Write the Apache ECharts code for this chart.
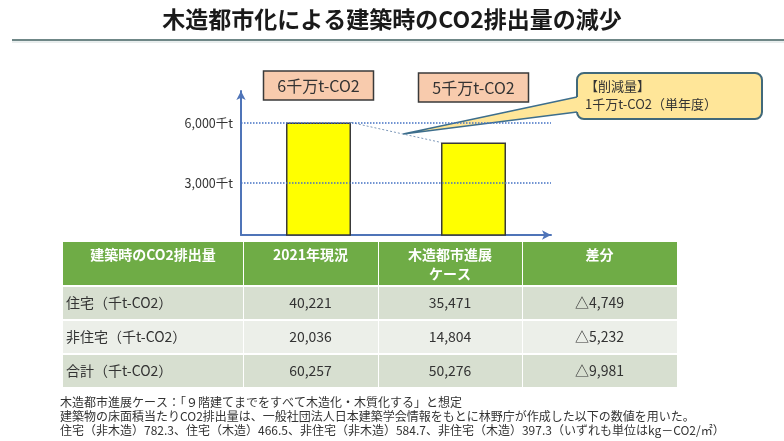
<!DOCTYPE html>
<html>
<head>
<meta charset="utf-8">
<style>
  html, body { margin: 0; padding: 0; background: #fff; }
  #chart { width: 784px; height: 441px; }
</style>
<script src="https://cdn.jsdelivr.net/npm/echarts@6/dist/echarts.min.js"></script>
</head>
<body>
<div id="chart"></div>
<script>
// data
const titleText = "木造都市化による建築時のCO2排出量の減少";
const categories = ["2021年現況", "木造都市進展ケース"];
const barValues = [6026, 5028];
const barLabels = ["6千万t-CO2", "5千万t-CO2"];
const refLines = [3000, 6000];
const refLabels = ["3,000千t", "6,000千t"];
const calloutLines = ["【削減量】", "1千万t-CO2（単年度）"];
const tableHeader = ["建築時のCO2排出量", "2021年現況", "木造都市進展\nケース", "差分"];
const rowNames = ["住宅（千t-CO2）", "非住宅（千t-CO2）", "合計（千t-CO2）"];
const current2021 = ["40,221", "20,036", "60,257"];
const woodCase = ["35,471", "14,804", "50,276"];
const diffs = ["△4,749", "△5,232", "△9,981"];
const notes = [
  "木造都市進展ケース：「９階建てまでをすべて木造化・木質化する」と想定",
  "建築物の床面積当たりCO2排出量は、一般社団法人日本建築学会情報をもとに林野庁が作成した以下の数値を用いた。",
  "住宅（非木造）782.3、住宅（木造）466.5、非住宅（非木造）584.7、非住宅（木造）397.3（いずれも単位はkg－CO2/㎡）"
];

const FONT = "'Noto Sans CJK JP', 'Noto Sans', sans-serif";
const axisBlue = "#4F74B8";

const myChart = echarts.init(document.getElementById("chart"));

const option = {
  animation: false,
  textStyle: { fontFamily: FONT },
  grid: { left: 241, top: 91, width: 310, height: 144 },
  xAxis: {
    type: "category",
    data: categories,
    axisLine: {
      symbol: ["none", "arrow"],
      symbolSize: [7, 9],
      lineStyle: { color: axisBlue, width: 2 },
    },
    axisTick: { show: false },
    axisLabel: { show: false },
  },
  yAxis: {
    type: "value",
    min: 400,
    max: 7600,
    axisLine: {
      show: true,
      symbol: ["none", "arrow"],
      symbolSize: [7, 9],
      lineStyle: { color: axisBlue, width: 2 },
    },
    axisTick: { show: false },
    axisLabel: { show: false },
    splitLine: { show: false },
  },
  series: [
    {
      type: "bar",
      data: barValues,
      barWidth: 65,
      itemStyle: { color: "#FFFF00", borderColor: "#3A3A3A", borderWidth: 1.5 },
      markLine: {
        silent: true,
        symbol: "none",
        lineStyle: { type: "dotted", color: "#4472C4", width: 1.5 },
        label: {
          position: "start",
          distance: 8,
          color: "#333",
          fontSize: 12.5,
          fontFamily: FONT,
          formatter: (p) => refLabels[refLines.indexOf(p.value)],
        },
        data: refLines.map((v) => ({ yAxis: v })),
      },
    },
  ],
};

myChart.setOption(option);

// positions of the bars, for the boxes and the dotted connector
const half = 65 / 2;
const cx = categories.map((c) => myChart.convertToPixel({ xAxisIndex: 0 }, c));
const topY = barValues.map((v) => myChart.convertToPixel({ yAxisIndex: 0 }, v));
const p1 = [cx[0] + half, topY[0]];
const p2 = [cx[1] - half, topY[1]];
const tip = [p1[0] + (p2[0] - p1[0]) * 0.58, p1[1] + (p2[1] - p1[1]) * 0.58];

const graphic = [];

// title + rule
graphic.push({
  type: "text", left: "center", top: 8,
  style: { text: titleText, font: "bold 23px " + FONT, fill: "#1a1a1a" },
});
graphic.push({ type: "line", shape: { x1: 12, y1: 40, x2: 784, y2: 40 }, style: { stroke: "#6F8787", lineWidth: 2 } });
graphic.push({ type: "line", shape: { x1: 12, y1: 42, x2: 784, y2: 42 }, style: { stroke: "#D3DCDC", lineWidth: 1 } });

// bar top boxes
const boxY = [71, 73];
barLabels.forEach((t, i) => {
  graphic.push({
    type: "rect",
    shape: { x: cx[i] - 55, y: boxY[i], width: 110, height: 29 },
    style: { fill: "#F8CBAD", stroke: "#3A3A3A", lineWidth: 1.5 },
  });
  graphic.push({
    type: "text", x: cx[i], y: boxY[i] + 15,
    style: { text: t, font: "16px " + FONT, fill: "#333", align: "center", verticalAlign: "middle" },
  });
});

// dotted connector between bar tops
graphic.push({
  type: "line",
  shape: { x1: p1[0], y1: p1[1], x2: p2[0], y2: p2[1] },
  style: { stroke: "#7C97B8", lineWidth: 1, lineDash: [2, 2] },
});

// callout bubble
const bx = 577, by = 73, bw = 185, bh = 46;
graphic.push({
  type: "rect",
  shape: { x: bx, y: by, width: bw, height: bh, r: 7 },
  style: { fill: "#FFE699", stroke: "#41697A", lineWidth: 2 },
});
graphic.push({
  type: "polygon",
  shape: { points: [tip, [bx, 97], [bx + 4, 97], [bx + 4, 112], [bx, 112]] },
  style: { fill: "#FFE699" },
});
graphic.push({ type: "polyline", shape: { points: [[bx, 97], tip, [bx, 112]] }, style: { stroke: "#3D6E8C", lineWidth: 1.5, fill: null } });
calloutLines.forEach((t, i) => {
  graphic.push({
    type: "text", x: bx + 8, y: by + 13 + i * 18,
    style: { text: t, font: "13px " + FONT, fill: "#333", verticalAlign: "middle" },
  });
});

// table
const colX = [63, 243, 378, 522, 677];
const rowY = [242, 287, 321, 355, 389];
const rowFill = ["#D7DFD0", "#ECEFE9", "#D7DFD0"];
const body = rowNames.map((n, r) => [n, current2021[r], woodCase[r], diffs[r]]);

tableHeader.forEach((h, c) => {
  graphic.push({
    type: "rect",
    shape: { x: colX[c] + (c ? 1 : 0), y: rowY[0], width: colX[c + 1] - colX[c] - (c ? 1 : 0), height: rowY[1] - rowY[0] - 2 },
    style: { fill: "#6FAC46" },
  });
  graphic.push({
    type: "text", x: (colX[c] + colX[c + 1]) / 2, y: 245,
    style: { text: h, font: "bold 14px " + FONT, fill: "#fff", align: "center", verticalAlign: "top", lineHeight: 19 },
  });
});

body.forEach((row, r) => {
  row.forEach((v, c) => {
    graphic.push({
      type: "rect",
      shape: { x: colX[c] + (c ? 1 : 0), y: rowY[r + 1], width: colX[c + 1] - colX[c] - (c ? 1 : 0), height: rowY[r + 2] - rowY[r + 1] - 2 },
      style: { fill: rowFill[r] },
    });
    graphic.push({
      type: "text",
      x: c === 0 ? colX[0] + 3 : (colX[c] + colX[c + 1]) / 2,
      y: rowY[r + 1] + 16,
      style: { text: v, font: "14px " + FONT, fill: "#333", align: c === 0 ? "left" : "center", verticalAlign: "middle" },
    });
  });
});

// footnotes
notes.forEach((t, i) => {
  graphic.push({
    type: "text", x: 60, y: 402 + i * 14,
    style: { text: t, font: "12px " + FONT, fill: "#333", verticalAlign: "middle" },
  });
});

myChart.setOption({ graphic: graphic });
</script>
</body>
</html>
